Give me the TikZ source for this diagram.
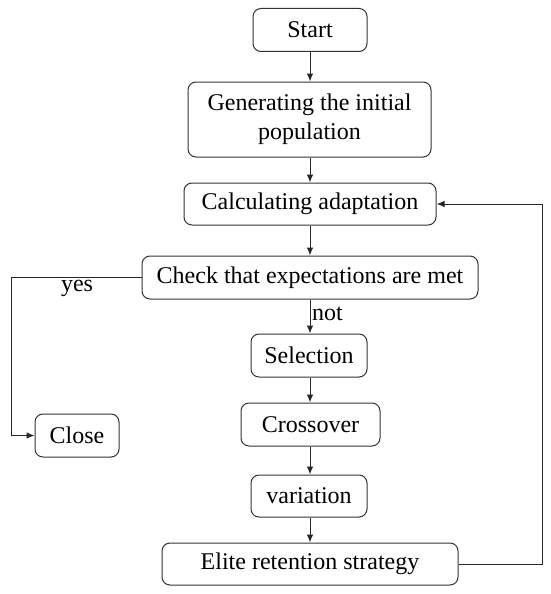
\documentclass[tikz,border=0pt]{standalone}
\usepackage{fontspec}
\setmainfont{Liberation Serif}
\usetikzlibrary{arrows.meta}
\begin{document}
\begin{tikzpicture}[x=1pt,y=-1pt,
  box/.style={draw=black!80, line width=1pt, rounded corners=8pt, inner sep=0pt,
    font=\fontsize{24}{29}\selectfont, align=center},
  lbl/.style={inner sep=0pt, font=\fontsize{24}{29}\selectfont},
  conn/.style={draw=black!85, line width=1pt, -{Latex[length=8pt,width=6.5pt]}},
  plain/.style={draw=black!85, line width=1pt}]
\path[use as bounding box] (0,0) rectangle (550,594);
\node[box, minimum width=114pt, minimum height=43pt] (start) at (310,30) {Start};
\node[box, minimum width=243pt, minimum height=75pt] (gen) at (309.5,119.5) {Generating the initial\\population};
\node[box, minimum width=252pt, minimum height=42pt] (calc) at (310,204) {Calculating adaptation};
\node[box, minimum width=336pt, minimum height=43pt] (check) at (310,277.5) {Check that expectations are met};
\node[box, minimum width=116pt, minimum height=43pt] (sel) at (309,355.5) {Selection};
\node[box, minimum width=139pt, minimum height=43pt] (cross) at (310.5,424.5) {Crossover};
\node[box, minimum width=84pt, minimum height=43pt] (close) at (77,435.5) {Close};
\node[box, minimum width=116pt, minimum height=42pt] (var) at (309,496) {variation};
\node[box, minimum width=296pt, minimum height=42pt] (elite) at (310,564) {Elite retention strategy};
\node[lbl] (yes) at (77,288) {yes};
\node[lbl, anchor=west] (not) at (312,314) {not};
\coordinate (cl) at (11.5,277.5);
\coordinate (cr) at (542.5,204);
\draw[conn] (start.south -| 310,0) -- (gen.north -| 310,0);
\draw[conn] (gen.south -| 310,0) -- (calc.north -| 310,0);
\draw[conn] (calc.south -| 310,0) -- (check.north -| 310,0);
\draw[conn] (check.south -| 310,0) -- (sel.north -| 310,0);
\draw[conn] (sel.south -| 310,0) -- (cross.north -| 310,0);
\draw[conn] (cross.south -| 310,0) -- (var.north -| 310,0);
\draw[conn] (var.south -| 310,0) -- (elite.north -| 310,0);
\draw[conn] (check.west) -- (cl) |- (close.west);
\draw[conn] (elite.east) -| (cr) -- (calc.east);
\end{tikzpicture}
\end{document}
